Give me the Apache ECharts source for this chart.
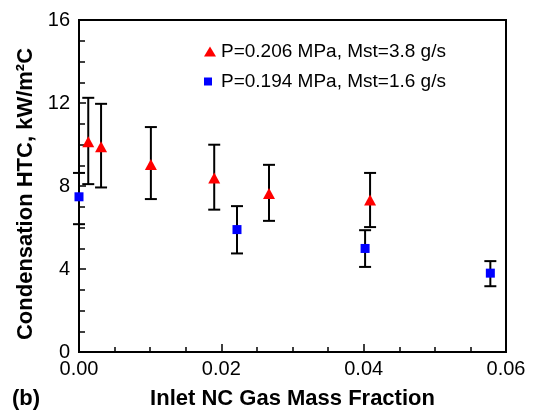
<!DOCTYPE html>
<html>
<head>
<meta charset="utf-8">
<script src="https://cdn.jsdelivr.net/npm/echarts@6/dist/echarts.min.js"></script>
<style>
  html, body { margin: 0; padding: 0; background: #fff; }
  #container { width: 539px; height: 416px; }
</style>
</head>
<body>
<div id="container"></div>
<script>
// P=0.206 MPa, Mst=3.8 g/s  (red triangles)
var redX  = [0.0013, 0.0031, 0.0101, 0.0190, 0.0267, 0.0409];
var redY  = [10.13, 9.89, 9.04, 8.39, 7.64, 7.32];
var redHi = [12.25, 11.96, 10.84, 9.99, 9.02, 8.63];
var redLo = [8.09, 7.93, 7.37, 6.86, 6.32, 6.02];

// P=0.194 MPa, Mst=1.6 g/s  (blue squares)
var blueX  = [0.0000, 0.0222, 0.0402, 0.0578];
var blueY  = [7.48, 5.90, 4.99, 3.80];
var blueHi = [8.63, 7.03, 5.87, 4.38];
var blueLo = [6.16, 4.75, 4.10, 3.17];

var redName = 'P=0.206 MPa, Mst=3.8 g/s';
var blueName = 'P=0.194 MPa, Mst=1.6 g/s';

var font = '"Liberation Sans", Arial, Helvetica, sans-serif';

function pairs(xs, ys) {
	var arr = [];
	for (var i = 0; i < xs.length; ++i) arr.push([xs[i], ys[i]]);
	return arr;
}
function errRows(xs, lo, hi) {
	var arr = [];
	for (var i = 0; i < xs.length; ++i) arr.push([xs[i], lo[i], hi[i]]);
	return arr;
}

function renderErr(params, api) {
	var x = api.value(0);
	var lo = api.coord([x, api.value(1)]);
	var hi = api.coord([x, api.value(2)]);
	var w = 6;
	var st = { stroke: '#000', lineWidth: 2 };
	return {
		type: 'group',
		children: [
			{ type: 'line', shape: { x1: hi[0], y1: hi[1], x2: lo[0], y2: lo[1] }, style: st },
			{ type: 'line', shape: { x1: hi[0] - w, y1: hi[1], x2: hi[0] + w, y2: hi[1] }, style: st },
			{ type: 'line', shape: { x1: lo[0] - w, y1: lo[1], x2: lo[0] + w, y2: lo[1] }, style: st }
		]
	};
}

var legendText = { fontFamily: font, fontSize: 19, color: '#000' };

var myChart = echarts.init(document.getElementById('container'));
var option = {
	backgroundColor: '#fff',
	animation: false,
	textStyle: { fontFamily: font },
	grid: {
		left: 79, right: 33, top: 20, bottom: 64,
		show: true, borderColor: '#000', borderWidth: 2
	},
	legend: [
		{
			left: 199, top: 37,
			itemWidth: 12, itemHeight: 10,
			textStyle: legendText,
			data: [{ name: redName, icon: 'triangle' }]
		},
		{
			left: 199, top: 67,
			itemWidth: 8, itemHeight: 8,
			textStyle: echarts.util.extend({ padding: [0, 0, 0, 4] }, legendText),
			data: [{ name: blueName, icon: 'rect' }]
		}
	],
	graphic: [
		{ type: 'text', left: 12, top: 388,
		  style: { text: '(b)', font: 'bold 22px ' + font, fill: '#000' } }
	],
	xAxis: {
		type: 'value',
		min: 0, max: 0.06, interval: 0.02,
		name: 'Inlet NC Gas Mass Fraction',
		nameLocation: 'middle',
		nameGap: 36,
		nameTextStyle: { fontFamily: font, fontSize: 22, fontWeight: 'bold', color: '#000' },
		axisLine: { lineStyle: { color: '#000', width: 2 } },
		axisTick: { inside: true, length: 8, lineStyle: { color: '#000', width: 1.5 } },
		minorTick: { show: true, splitNumber: 4, length: 5, lineStyle: { color: '#000', width: 1.5 } },
		axisLabel: {
			fontFamily: font, fontSize: 20, color: '#000', margin: 7,
			formatter: function (v) { return v.toFixed(2); }
		},
		splitLine: { show: false }
	},
	yAxis: {
		type: 'value',
		min: 0, max: 16, interval: 4,
		name: 'Condensation HTC, kW/m\u00b2C',
		nameLocation: 'middle',
		nameGap: 33,
		nameTextStyle: {
			fontFamily: font, fontSize: 22, fontWeight: 'bold', color: '#000',
			padding: [0, 16, 0, 0]
		},
		axisLine: { lineStyle: { color: '#000', width: 2 } },
		axisTick: { inside: true, length: 7, lineStyle: { color: '#000', width: 1.5 } },
		minorTick: { show: true, splitNumber: 4, length: 6, lineStyle: { color: '#000', width: 1.5 } },
		axisLabel: { fontFamily: font, fontSize: 20, color: '#000', margin: 9 },
		splitLine: { show: false }
	},
	series: [
		{
			name: 'redErr', type: 'custom', renderItem: renderErr,
			data: errRows(redX, redLo, redHi), z: 1, clip: false, silent: true
		},
		{
			name: 'blueErr', type: 'custom', renderItem: renderErr,
			data: errRows(blueX, blueLo, blueHi), z: 1, clip: false, silent: true
		},
		{
			name: redName, type: 'scatter', symbol: 'triangle', symbolSize: [12, 11],
			itemStyle: { color: '#ff0000', opacity: 1 },
			data: pairs(redX, redY), z: 3, clip: false
		},
		{
			name: blueName, type: 'scatter', symbol: 'rect', symbolSize: 9,
			itemStyle: { color: '#0000ff', opacity: 1 },
			data: pairs(blueX, blueY), z: 3, clip: false
		}
	]
};
myChart.setOption(option);
</script>
</body>
</html>
